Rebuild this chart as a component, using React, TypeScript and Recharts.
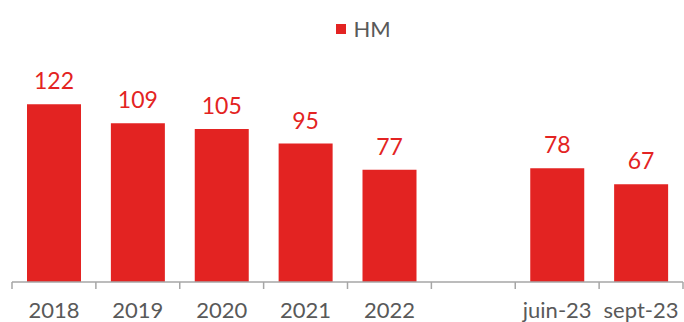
import { BarChart, Bar, XAxis, YAxis, Legend, LabelList } from 'recharts';

const categories = ['2018', '2019', '2020', '2021', '2022', ' ', 'juin-23', 'sept-23'];
const hmValues = [122, 109, 105, 95, 77, null, 78, 67];

const red = '#E32322';
const gray = '#595959';
const axisGray = '#A6A6A6';
const font = 'Lato, "Open Sans", sans-serif';

const data = categories.map((name, i) => ({ name, HM: hmValues[i] }));

// ticks sit on category boundaries, not centers
const BoundaryTick = (props: any) => {
  const { x, y, payload, index } = props;
  const half = payload && payload.offset ? payload.offset : 42;
  const last = index === categories.length - 1;
  return (
    <g>
      <line x1={x - half} x2={x - half} y1={y - 8} y2={y - 1} stroke={axisGray} strokeWidth={1.5} />
      {last && (
        <line x1={x + half} x2={x + half} y1={y - 8} y2={y - 1} stroke={axisGray} strokeWidth={1.5} />
      )}
      <text x={x} y={y + 28} textAnchor='middle' fill={gray} fontSize={22} fontFamily={font}>
        {payload.value}
      </text>
    </g>
  );
};

const LegendBox = () => (
  <div
    style={{
      display: 'flex',
      justifyContent: 'center',
      alignItems: 'center',
      paddingTop: 15,
      paddingLeft: 32,
      fontFamily: font,
      fontSize: 22,
      color: gray,
    }}
  >
    <span style={{ width: 10, height: 10, background: red, marginRight: 7, display: 'inline-block' }} />
    HM
  </div>
);

const App = () => {
  return (
    <div style={{ position: 'absolute', left: 0, top: 0 }}>
      <BarChart
        width={684}
        height={322}
        data={data}
        margin={{ top: 0, right: 1, left: 12, bottom: 0 }}
      >
        <Legend verticalAlign='top' height={78} content={<LegendBox />} />
        <XAxis
          dataKey='name'
          interval={0}
          height={40}
          tickLine={false}
          axisLine={{ stroke: axisGray, strokeWidth: 1.5 }}
          tick={<BoundaryTick />}
        />
        <YAxis hide domain={[0, 140]} />
        <Bar dataKey='HM' fill={red} barSize={54} isAnimationActive={false}>
          <LabelList
            dataKey='HM'
            position='top'
            offset={15}
            fill={red}
            fontSize={23}
            fontFamily={font}
          />
        </Bar>
      </BarChart>
    </div>
  );
};

export default App;
